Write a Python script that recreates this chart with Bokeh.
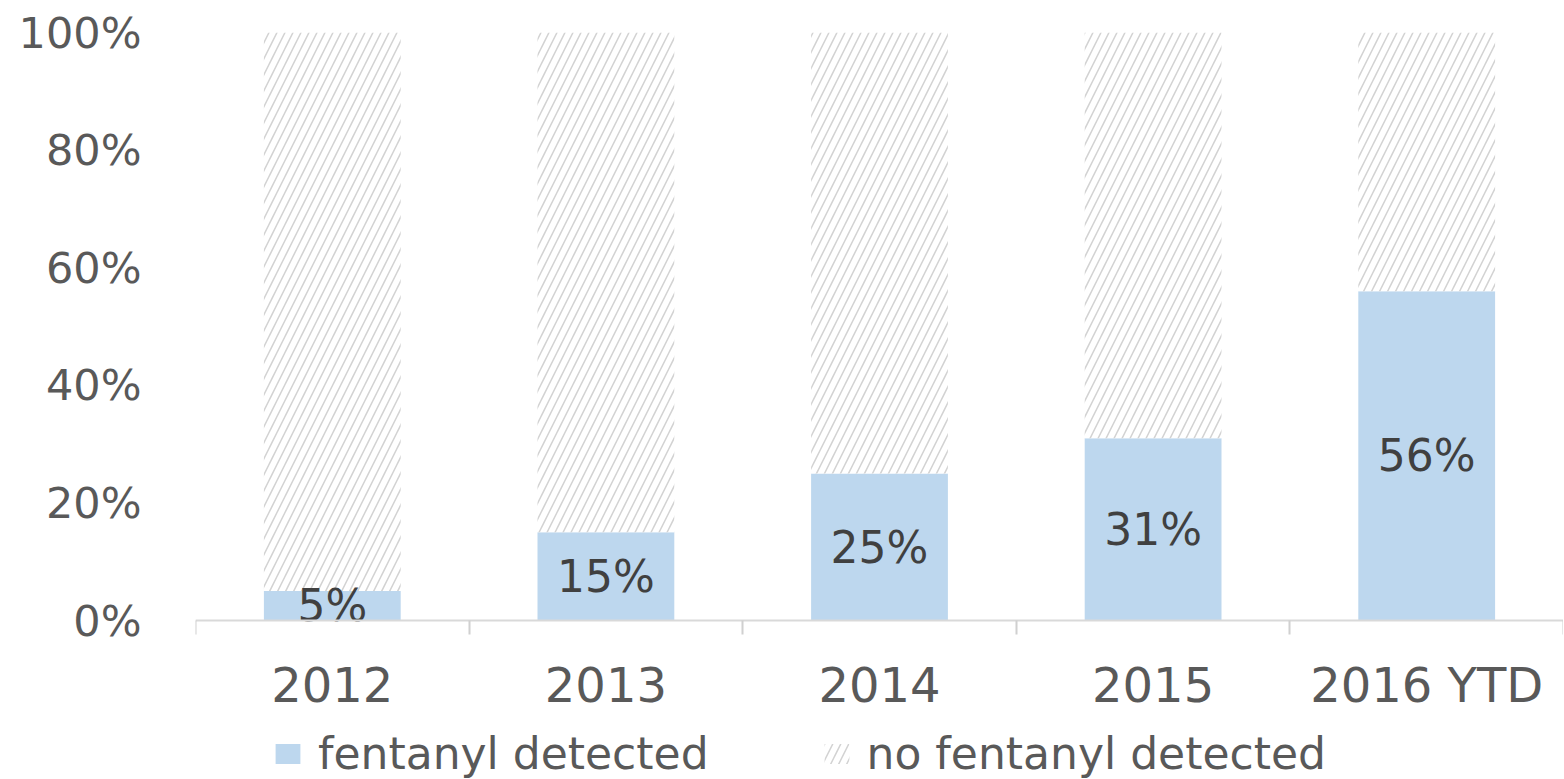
from bokeh.plotting import figure
from bokeh.models import ColumnDataSource, FixedTicker, Range1d, Legend, LegendItem
from bokeh.core.properties import value
from bokeh.embed import file_html
from bokeh.resources import INLINE

categories = ["2012", "2013", "2014", "2015", "2016 YTD"]
fentanyl = [0.05, 0.15, 0.25, 0.31, 0.56]
labels = ["5%", "15%", "25%", "31%", "56%"]
y_ticks = [0, 0.2, 0.4, 0.6, 0.8, 1.0]
y_tick_labels = ["0%", "20%", "40%", "60%", "80%", "100%"]
series_names = ["fentanyl detected", "no fentanyl detected"]

FONT = "DejaVu Sans"
n = len(categories)
xs = [i + 0.5 for i in range(n)]
source = ColumnDataSource(dict(
    x=xs,
    fent=fentanyl,
    total=[1.0] * n,
    mid=[f / 2 for f in fentanyl],
    lab=labels,
))

# frame spans 0..100% over 588px plus room below for axis labels and legend
p = figure(frame_width=1368, frame_height=747, output_backend="svg", toolbar_location=None,
           x_range=Range1d(0, n), y_range=Range1d(-159 / 588, 1),
           min_border_left=195, min_border_right=0, min_border_top=32, min_border_bottom=0)
p.outline_line_color = None
p.xgrid.grid_line_color = None
p.ygrid.grid_line_color = None

r1 = p.vbar(x="x", top="fent", bottom=0, width=0.5, source=source,
            fill_color="#BDD7EE", line_color=None)
r2 = p.vbar(x="x", top="total", bottom="fent", width=0.5, source=source,
            fill_color="white", line_color=None,
            hatch_pattern="/", hatch_color="#d2d2d2", hatch_scale=16, hatch_weight=1.5)

p.text(x="x", y="mid", text="lab", source=source, text_align="center", text_baseline="middle",
       text_font=value(FONT), text_font_size="44px", text_color="#404040")

# x axis drawn at y = 0
xa = p.xaxis[0]
xa.fixed_location = 0
xa.ticker = FixedTicker(ticks=xs, minor_ticks=list(range(n + 1)))
xa.major_label_overrides = {x: c for x, c in zip(xs, categories)}
xa.major_tick_line_color = None
xa.major_tick_out = 0
xa.major_tick_in = 0
xa.minor_tick_line_color = "#d0d0d0"
xa.minor_tick_line_width = 2
xa.minor_tick_out = 14
xa.minor_tick_in = 0
xa.axis_line_color = "#d9d9d9"
xa.axis_line_width = 2
xa.major_label_text_font = FONT
xa.major_label_text_font_size = "48px"
xa.major_label_text_color = "#595959"
xa.major_label_standoff = 22

ya = p.yaxis[0]
ya.ticker = FixedTicker(ticks=y_ticks)
ya.major_label_overrides = {t: l for t, l in zip(y_ticks, y_tick_labels)}
ya.axis_line_color = None
ya.major_tick_line_color = None
ya.minor_tick_line_color = None
ya.major_tick_out = 0
ya.major_tick_in = 0
ya.major_label_text_font = FONT
ya.major_label_text_font_size = "43px"
ya.major_label_text_color = "#595959"
ya.major_label_standoff = 54

legend = Legend(items=[LegendItem(label=series_names[0], renderers=[r1]),
                       LegendItem(label=series_names[1], renderers=[r2])],
                orientation="horizontal", location=(77, 0),
                label_text_font=FONT, label_text_font_size="44px", label_text_color="#595959",
                glyph_width=31, glyph_height=25, label_standoff=15, spacing=112,
                padding=0, margin=0, border_line_color=None, background_fill_alpha=0)
p.add_layout(legend, "center")

open("out.html", "w").write(file_html(p, INLINE))
